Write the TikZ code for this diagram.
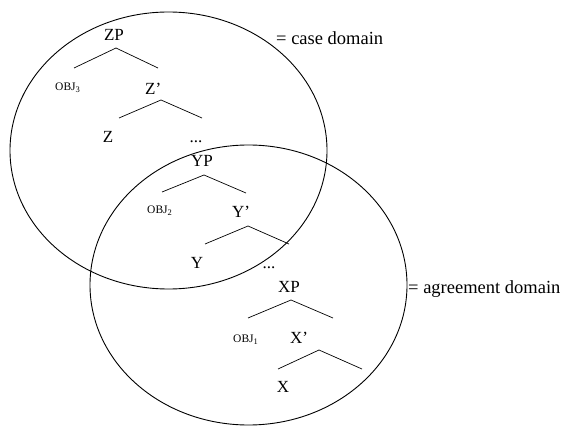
\documentclass[tikz,border=0pt]{standalone}
\usepackage{fontspec}
\setmainfont{Liberation Serif}
\begin{document}
\begin{tikzpicture}[x=1pt,y=-1pt,
  lab/.style={anchor=base,inner sep=0pt,font=\fontsize{17}{19}\selectfont},
  labw/.style={anchor=base west,inner sep=0pt,font=\fontsize{17}{19}\selectfont},
  obj/.style={anchor=base west,inner sep=0pt,font=\fontsize{11.5}{13}\selectfont},
  dom/.style={anchor=base west,inner sep=0pt,font=\fontsize{18.5}{21}\selectfont},
  branch/.style={line width=0.7pt},
  domline/.style={line width=0.9pt}]
\useasboundingbox (0,0) rectangle (569,427);
% domains
\draw[domline] (168.5,150.5) ellipse [x radius=158.5, y radius=138.5];
\draw[domline] (248.5,285) ellipse [x radius=158.5, y radius=140];
% labels
\node[lab] (zp) at (114,41) {ZP};
\node[obj] (obj3) at (55,91) {OBJ\raisebox{-2pt}{\fontsize{8.5}{9}\selectfont 3}};
\node[labw] (zbar) at (145,95) {Z’};
\node[lab] (z) at (108,143) {Z};
\node[lab] (dots1) at (196,143) {...};
\node[lab] (yp) at (202,167) {YP};
\node[obj] (obj2) at (147,214) {OBJ\raisebox{-2pt}{\fontsize{8.5}{9}\selectfont 2}};
\node[labw] (ybar) at (232,218) {Y’};
\node[lab] (y) at (197,268) {Y};
\node[lab] (dots2) at (269,269) {...};
\node[lab] (xp) at (289,292) {XP};
\node[obj] (obj1) at (233,342) {OBJ\raisebox{-2pt}{\fontsize{8.5}{9}\selectfont 1}};
\node[labw] (xbar) at (290,343) {X’};
\node[lab] (x) at (283,392) {X};
\node[dom] (agr) at (408,293) {= agreement domain};
\node[dom] (case) at (276,45) {= case domain};
% branches
\coordinate (zpA) at (116,48); \coordinate (zpL) at (74,68); \coordinate (zpR) at (158,68);
\coordinate (zbA) at (161,100); \coordinate (zbL) at (119,118); \coordinate (zbR) at (202,118);
\coordinate (ypA) at (204,175); \coordinate (ypL) at (162,192); \coordinate (ypR) at (246,193);
\coordinate (ybA) at (248,226); \coordinate (ybL) at (205,244); \coordinate (ybR) at (289,244);
\coordinate (xpA) at (291,300); \coordinate (xpL) at (248,318); \coordinate (xpR) at (333,318);
\coordinate (xbA) at (319,350); \coordinate (xbL) at (278,369); \coordinate (xbR) at (362,369);
\draw[branch] (zpL) -- (zpA) -- (zpR);
\draw[branch] (zbL) -- (zbA) -- (zbR);
\draw[branch] (ypL) -- (ypA) -- (ypR);
\draw[branch] (ybL) -- (ybA) -- (ybR);
\draw[branch] (xpL) -- (xpA) -- (xpR);
\draw[branch] (xbL) -- (xbA) -- (xbR);
\end{tikzpicture}
\end{document}
